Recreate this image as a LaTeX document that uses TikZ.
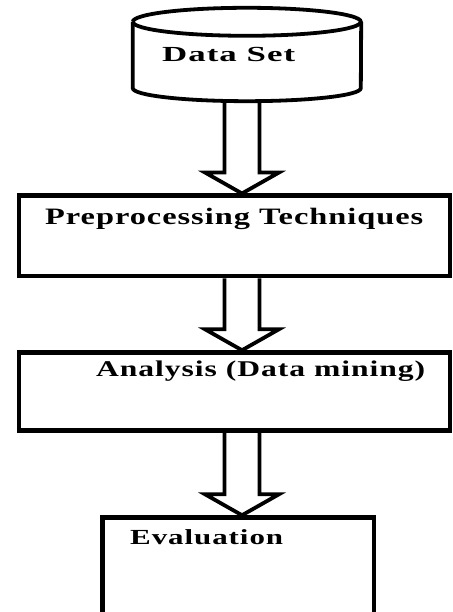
\documentclass[tikz,border=0pt]{standalone}
\usepackage{fontspec}
\setmainfont{Liberation Serif}
\newfontfamily\spacedfont{Liberation Serif Bold}[LetterSpace=3]
\usetikzlibrary{calc}
\tikzset{
  boxstyle/.style={draw, line width=4.5pt, rectangle, inner sep=0pt},
  cylline/.style={draw, line width=3.8pt},
  blockarrow/.style={draw, line width=3.8pt, line join=miter},
  lbl/.style={anchor=base west, inner sep=0pt}
}
% block arrow at x=242pt from (#1) to (#2)
\newcommand\blkarrow[2]{%
  \draw[blockarrow] let \p1=(#1), \p2=(#2) in
    (242pt-17.5pt,\y1) -- (242pt-17.5pt,\y2+21pt) -- (242pt-37pt,\y2+21pt)
    -- (242pt,\y2) -- (242pt+37pt,\y2+21pt) -- (242pt+17.5pt,\y2+21pt)
    -- (242pt+17.5pt,\y1);}
\begin{document}
\begin{tikzpicture}[x=1pt,y=1pt]
\useasboundingbox (0,0) rectangle (452,612);
% cylinder (Data Set)
\node[minimum width=228pt, minimum height=66pt, inner sep=0pt] (ds) at (247,557) {};
\draw[cylline] (ds.north west) arc[start angle=180, end angle=-180, x radius=114pt, y radius=14pt];
\draw[cylline] (ds.north west) -- (ds.south west)
  arc[start angle=180, end angle=360, x radius=114pt, y radius=13pt] -- (ds.north east);
\coordinate (dsb) at (242,512);
\node[lbl, font=\fontsize{21.5}{25}\spacedfont] (dst) at (162,550) {\resizebox{133pt}{\height}{Data Set}};
% boxes
\node[boxstyle, minimum width=431pt, minimum height=80.5pt] (pre) at (234.5,376) {};
\node[lbl, font=\fontsize{23.5}{28}\spacedfont] (pret) at (45,387.5) {\resizebox{378pt}{\height}{Preprocessing Techniques}};
\node[boxstyle, minimum width=431pt, minimum height=78pt] (ana) at (234.5,220.5) {};
\node[lbl, font=\fontsize{22.5}{27}\spacedfont] (anat) at (96,235) {\resizebox{329pt}{\height}{Analysis (Data mining)}};
\node[boxstyle, minimum width=271.5pt, minimum height=97pt] (eva) at (238,46) {};
\node[lbl, font=\fontsize{21.5}{25}\spacedfont] (evat) at (130,67) {\resizebox{153pt}{\height}{Evaluation}};
% arrows
\blkarrow{dsb}{pre.north}
\blkarrow{pre.south}{ana.north}
\blkarrow{ana.south}{eva.north}
\end{tikzpicture}
\end{document}
